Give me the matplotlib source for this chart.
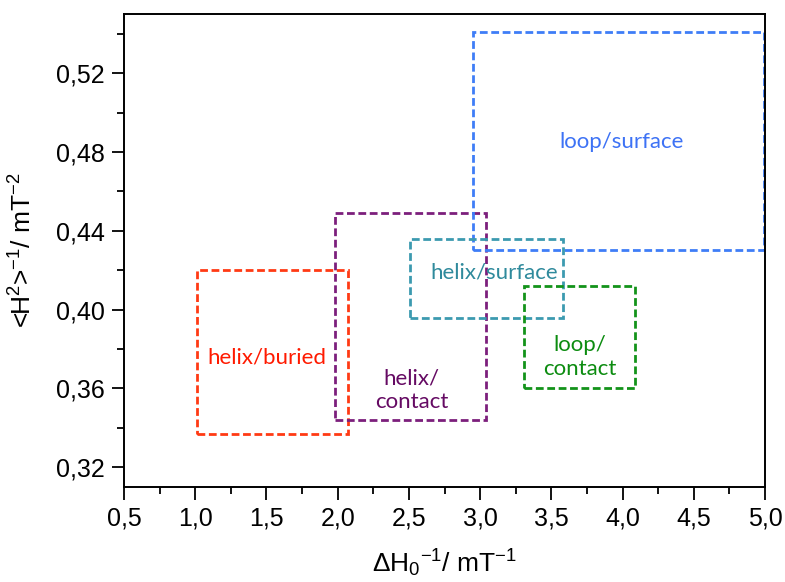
import matplotlib
matplotlib.use("Agg")
import matplotlib.pyplot as plt
from matplotlib.patches import Rectangle
from matplotlib.ticker import MultipleLocator, FuncFormatter

# region boxes: x range (1/linewidth) and y range (1/<H^2>)
regions = ["helix/buried", "helix/contact", "loop/surface", "helix/surface", "loop/contact"]
x_lo = [1.01, 1.98, 2.95, 2.51, 3.31]
x_hi = [2.07, 3.04, 4.99, 3.58, 4.09]
y_lo = [0.337, 0.344, 0.430, 0.396, 0.360]
y_hi = [0.420, 0.449, 0.541, 0.436, 0.412]

# label text and anchor for each box
label_text = ["helix/buried", "helix/\ncontact", "loop/surface", "helix/surface", "loop/\ncontact"]
label_x = [1.50, 2.52, 3.99, 3.10, 3.70]
label_y = [0.3755, 0.359, 0.4848, 0.419, 0.376]

box_colors = ["#ff3a14", "#7c1f7c", "#3f7df7", "#3c9ab0", "#13931a"]
text_colors = ["#ff1a00", "#650a63", "#3d72f5", "#2f8a9c", "#0c8c10"]

plt.rcParams["font.family"] = ["Liberation Sans", "DejaVu Sans"]
plt.rcParams["mathtext.default"] = "regular"

fig = plt.figure(figsize=(7.85, 5.82), dpi=100)
ax = fig.add_axes([0.158, 0.1632, 0.8165, 0.8128])

for i in range(len(regions)):
    rect = Rectangle((x_lo[i], y_lo[i]), x_hi[i] - x_lo[i], y_hi[i] - y_lo[i],
                     fill=False, edgecolor=box_colors[i], linewidth=2.0,
                     linestyle=(0, (2.8, 1.3)))
    ax.add_patch(rect)
    ax.text(label_x[i], label_y[i], label_text[i], color=text_colors[i],
            ha="center", va="center", fontsize=16, family="Lato",
            linespacing=1.2)

ax.set_xlim(0.5, 5.0)
ax.set_ylim(0.31, 0.55)
ax.xaxis.set_major_locator(MultipleLocator(0.5))
ax.xaxis.set_minor_locator(MultipleLocator(0.25))
ax.yaxis.set_major_locator(MultipleLocator(0.04))
ax.yaxis.set_minor_locator(MultipleLocator(0.02))

comma = lambda fmt: FuncFormatter(lambda v, p: fmt.format(v).replace(".", ","))
ax.xaxis.set_major_formatter(comma("{:.1f}"))
ax.yaxis.set_major_formatter(comma("{:.2f}"))

ax.tick_params(which="major", direction="out", length=9, width=1.3,
               labelsize=18, pad=5)
ax.tick_params(which="minor", direction="out", length=5, width=1.3)
for s in ax.spines.values():
    s.set_linewidth(1.4)

ax.set_xlabel(r"ΔH$_0$$^{-1}$/ mT$^{-1}$", fontsize=19, labelpad=12)
ax.set_ylabel(r"<H$^2$>$^{-1}$/ mT$^{-2}$", fontsize=19, labelpad=14)

fig.savefig("out.png", dpi=100)
